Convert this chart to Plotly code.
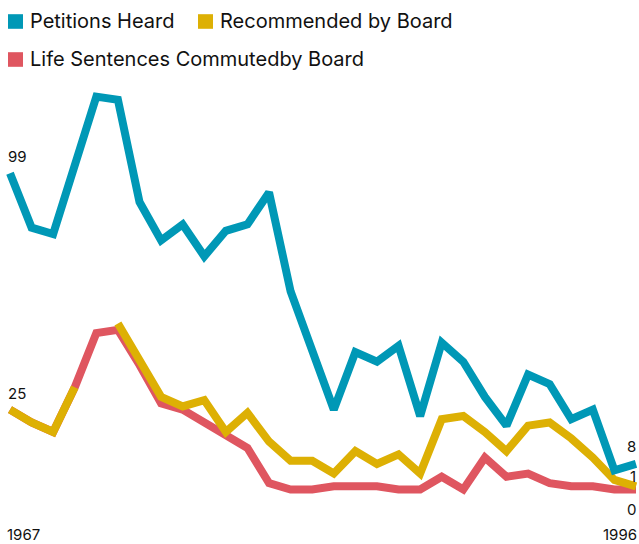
import plotly.graph_objects as go

# ---- data ----
years = list(range(1967, 1997))
petitions_heard = [99, 82, 80, 101, 123, 122, 90, 78, 83, 73, 81, 83, 93, 62, 44,
                   25, 43, 40, 45, 23, 46, 40, 29, 20, 36, 33, 22, 25, 6, 8]
recommended = [25, 21, 18, 32, None, 52, 40, 29, 26, 28, 18, 24, 15, 9, 9,
               5, 12, 8, 11, 5, 22, 23, 18, 12, 20, 21, 16, 10, 3, 1]
life_commuted = [25, 21, 18, 32, 49, 50, 39, 27, 25, 21, 17, 13, 2, 0, 0,
                 1, 1, 1, 0, 0, 4, 0, 10, 4, 5, 2, 1, 1, 0, 0]
series_names = ["Petitions Heard", "Recommended by Board", "Life Sentences Commutedby Board"]
colors = {"Petitions Heard": "#0098B6",
          "Recommended by Board": "#DDB004",
          "Life Sentences Commutedby Board": "#DF5660"}

W, H = 639, 544
MT, MB = 80, 0
FONT = "Inter"

def py2paper(py):
    return (H - py) / (H - MT - MB)

def px2paper(px):
    return px / W

fig = go.Figure()
for name, vals in [("Life Sentences Commutedby Board", life_commuted),
                   ("Recommended by Board", recommended),
                   ("Petitions Heard", petitions_heard)]:
    fig.add_trace(go.Scatter(x=years, y=vals, mode="lines", name=name,
                             line=dict(color=colors[name], width=8),
                             connectgaps=False, showlegend=False,
                             hoverinfo="skip"))

# manual legend
legend_pos = [("Petitions Heard", 8, 21.5), ("Recommended by Board", 198, 21.5),
              ("Life Sentences Commutedby Board", 8, 59.5)]
shapes = []
annotations = []
for name, lx, ly in legend_pos:
    shapes.append(dict(type="rect", xref="paper", yref="paper",
                       x0=px2paper(lx), x1=px2paper(lx + 15),
                       y0=py2paper(ly - 7.3), y1=py2paper(ly + 7.3),
                       fillcolor=colors[name], line=dict(width=0)))
    annotations.append(dict(text=name, xref="paper", yref="paper",
                            x=px2paper(lx + 20), y=py2paper(ly),
                            xanchor="left", yanchor="middle", showarrow=False,
                            font=dict(family=FONT, size=20, color="#111111")))

lab_font = dict(family=FONT, size=15, color="#111111")
# start labels
annotations.append(dict(text=str(petitions_heard[0]), x=years[0], y=petitions_heard[0],
                        xanchor="left", yanchor="middle", yshift=17, xshift=-4,
                        showarrow=False, font=lab_font))
annotations.append(dict(text=str(recommended[0]), x=years[0], y=recommended[0],
                        xanchor="left", yanchor="middle", yshift=16, xshift=-4,
                        showarrow=False, font=lab_font))
# end labels
annotations.append(dict(text=str(petitions_heard[-1]), x=years[-1], y=petitions_heard[-1],
                        xanchor="right", yanchor="middle", yshift=17, xshift=2,
                        showarrow=False, font=lab_font))
annotations.append(dict(text=str(recommended[-1]), x=years[-1], y=recommended[-1],
                        xanchor="right", yanchor="middle", yshift=10, xshift=2,
                        showarrow=False, font=lab_font))
annotations.append(dict(text=str(life_commuted[-1]), x=years[-1], y=life_commuted[-1],
                        xanchor="right", yanchor="middle", yshift=-20, xshift=2,
                        showarrow=False, font=lab_font))
# year labels
annotations.append(dict(text=str(years[0]), x=years[0], xref="x", yref="paper",
                        y=py2paper(534.5), xanchor="left", yanchor="middle", xshift=-4,
                        borderpad=0, showarrow=False, font=lab_font))
annotations.append(dict(text=str(years[-1]), x=years[-1], xref="x", yref="paper",
                        y=py2paper(534.5), xanchor="right", yanchor="middle", xshift=2,
                        borderpad=0, showarrow=False, font=lab_font))

# axis ranges so that 1967 -> px 10, 1996 -> px 636, 0 -> py 489.5, 99 -> py 173.3
step = 626 / 29
x0 = 1967 - 10 / step
x1 = 1967 + (W - 10) / step
scale = (489.5 - 173.3) / 99
y_top = (489.5 - MT) / scale
y_bot = (489.5 - (H - MB)) / scale

fig.update_layout(
    width=W, height=H,
    margin=dict(l=0, r=0, t=MT, b=MB, pad=0),
    paper_bgcolor="white", plot_bgcolor="white",
    xaxis=dict(range=[x0, x1], visible=False, fixedrange=True),
    yaxis=dict(range=[y_bot, y_top], visible=False, fixedrange=True),
    shapes=shapes, annotations=annotations,
    showlegend=False,
    font=dict(family=FONT),
)

fig.write_html("out.html", config={"displayModeBar": False},
               post_script="document.body.style.margin='0';document.body.style.overflow='hidden';")
